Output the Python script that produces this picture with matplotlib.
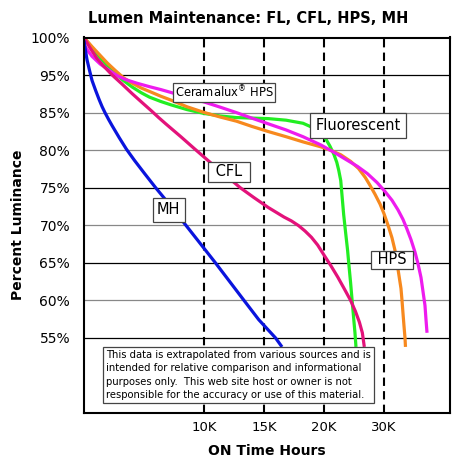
import numpy as np
from matplotlib import pyplot as plt

# hours in thousands, luminance in percent
mh_hours = [0, 0.13, 0.25, 0.46, 0.67, 0.97, 1.26, 1.51, 1.76, 2.06, 2.35, 2.94, 3.53, 4.2, 5.04, 5.97,
            7.23, 8.49, 9.75, 10.95, 12.14, 13.33, 14.56, 15.96, 16.5]
mh_pct = [99.6, 98.2, 97.05, 95.62, 93.55, 90.89, 88.48, 86.57, 84.96, 84.06, 83.24, 81.65, 80.14,
          78.65, 76.9, 75, 72.56, 70, 67.44, 65, 62.5, 60, 57.43, 55, 53.8]

cfl_hours = [0, 0.5, 1.09, 1.68, 2.35, 3.19, 4.03, 4.87, 5.63, 6.22, 6.81, 8.07, 9.24, 10.56, 11.83,
             13.02, 14.13, 15.35, 16.67, 17.28, 17.89, 18.42, 18.95, 19.47, 20.0, 21.15, 22.3, 23.44,
             24.43, 25.25, 25.9, 26.39, 26.72]
cfl_pct = [100, 98.63, 97.2, 96.12, 95, 92.54, 90.0, 87.59, 85.43, 84.34, 83.51, 81.79, 80.14, 78.31,
           76.62, 75, 73.72, 72.37, 71.09, 70.58, 69.94, 69.23, 68.4, 67.37, 66.03, 64.61, 63.09,
           61.45, 60, 58.51, 57.09, 55.68, 53.8]

cer_hours = [0, 0.34, 0.67, 1.34, 2.1, 2.77, 3.45, 4.45, 5.46, 6.39, 7.23, 8.57, 10.0, 11.35, 12.7,
             13.97, 15.35, 16.84, 18.25, 19.74, 21.64, 23.61, 25.57, 27.21, 28.85, 30.17, 31.33, 32.33,
             33.17, 33.83, 34.5, 35.17, 35.67, 36.17, 36.5, 36.83, 37.0, 37.17]
cer_pct = [99.07, 98.2, 97.49, 96.48, 95.62, 94.82, 93.81, 92.79, 91.9, 91.14, 90.38, 89.11, 87.84,
           86.45, 85, 84.27, 83.51, 82.69, 81.79, 80.69, 79.73, 78.78, 77.84, 76.89, 75.68, 74.49,
           73.33, 72.05, 70.77, 69.49, 68.08, 66.41, 64.87, 63.03, 61.18, 59.32, 57.43, 55.68]

hps_hours = [0, 0.67, 1.26, 1.93, 2.6, 3.28, 4.03, 4.79, 5.55, 6.39, 7.23, 8.57, 10.0, 11.35, 12.7,
             13.97, 15.35, 16.84, 18.25, 19.74, 21.15, 22.79, 24.43, 25.74, 26.89, 27.7, 28.52, 29.34,
             30.0, 30.67, 31.33, 31.83, 32.17, 32.5, 32.83, 33.0, 33.17, 33.33, 33.5, 33.58]
hps_pct = [100, 98.78, 97.77, 96.62, 95.62, 94.31, 92.79, 91.52, 90.51, 89.37, 88.35, 86.57, 85.05,
           84.41, 83.86, 83.17, 82.48, 81.79, 81.1, 80.44, 79.96, 79.39, 78.51, 77.57, 76.35, 75.27,
           74.1, 72.82, 71.54, 70, 68.33, 66.67, 65, 63.29, 61.58, 60, 58.24, 56.62, 55, 53.8]

fl_hours = [0, 0.67, 1.26, 1.93, 2.6, 3.28, 4.03, 4.79, 5.46, 6.39, 7.23, 8.57, 10.0, 11.35, 12.7,
            13.97, 15.35, 16.84, 18.25, 19.12, 19.74, 20.33, 20.98, 21.64, 22.13, 22.46, 22.79, 23.03,
            23.28, 23.61, 23.93, 24.18, 24.43, 24.67, 24.92, 25.16, 25.33]
fl_pct = [100, 98.63, 97.49, 96.26, 95.19, 93.55, 91.78, 90.25, 89.11, 87.97, 87.08, 85.81, 84.89,
          84.55, 84.34, 84.27, 84.2, 83.99, 83.58, 82.96, 82.27, 81.45, 80.55, 79.46, 78.38, 77.3,
          75.95, 73.72, 71.41, 68.97, 66.67, 64.47, 62.37, 60.13, 57.84, 55.68, 53.8]

y_ticks = [100, 95, 85, 80, 75, 70, 65, 60, 55]
x_ticks = [10, 15, 20, 30]
x_labels = ["10K", "15K", "20K", "30K"]

note = ("This data is extrapolated from various sources and is\n"
        "intended for relative comparison and informational\n"
        "purposes only.  This web site host or owner is not\n"
        "responsible for the accuracy or use of this material.")

# the chart's axes are evenly spaced per label, not linear
y_known = [-1000, 45, 50, 55, 60, 65, 70, 75, 80, 85, 95, 100, 1100]
y_pos = [-209, 0, 1, 2, 3, 4, 5, 6, 7, 8, 9, 10, 210]
x_known = [-1000, 0, 10, 15, 20, 30, 1000]
x_pos = [-200, 0, 2, 3, 4, 5, 102]


def yfwd(v):
    return np.interp(v, y_known, y_pos)


def yinv(v):
    return np.interp(v, y_pos, y_known)


def xfwd(v):
    return np.interp(v, x_known, x_pos)


def xinv(v):
    return np.interp(v, x_pos, x_known)


plt.rcParams['font.family'] = ['DejaVu Sans']
fig = plt.figure(figsize=(4.65, 4.67), dpi=100)
ax = fig.add_axes([84 / 465, 1 - 413 / 467, 366 / 465, 375.5 / 467])
ax.set_xscale('function', functions=(xfwd, xinv))
ax.set_yscale('function', functions=(yfwd, yinv))
ax.set_xlim(0, 41)
ax.set_ylim(45, 100)

grid_colors = ['black', 'black', '#888888', '#888888', 'black', '#888888', 'black', '#888888', 'black']
for v, c in zip(y_ticks, grid_colors):
    ax.axhline(v, color=c, lw=0.9, zorder=1)
for v in x_ticks:
    ax.axvline(v, color='black', lw=1.5, ls=(0, (4, 2.5)), zorder=1)

line_kw = dict(lw=2.3, zorder=3, solid_joinstyle='round', solid_capstyle='butt')
ax.plot(fl_hours, fl_pct, color='#22ee22', **line_kw)
ax.plot(hps_hours, hps_pct, color='#f7891e', **line_kw)
ax.plot(cer_hours, cer_pct, color='#ee1bee', **line_kw)
ax.plot(cfl_hours, cfl_pct, color='#e3127a', **line_kw)
ax.plot(mh_hours, mh_pct, color='#0a14dd', **line_kw)


def label(x, y, s, size, pad):
    ax.text(x, y, s, fontsize=size, ha='center', va='center', zorder=5,
            bbox=dict(boxstyle=f'square,pad={pad}', fc='white', ec='#444444', lw=0.9))


label(11.67, 90.3, r"Ceramalux$^{\circledR}$ HPS", 8.3, 0.12)
label(25.7, 83.3, "Fluorescent", 10.5, 0.35)
label(12.1, 77.1, " CFL ", 10.5, 0.2)
label(7.06, 72.05, "MH", 10.5, 0.3)
label(31.3, 65.4, " HPS ", 10.5, 0.12)

ax.text(0.060, 0.168, note, transform=ax.transAxes, fontsize=7.2, ha='left', va='top',
        linespacing=1.42, zorder=6,
        bbox=dict(boxstyle='square,pad=0.3', fc='white', ec='#444444', lw=0.9))

ax.set_xticks(x_ticks)
ax.set_xticklabels(x_labels)
ax.set_yticks(y_ticks)
ax.set_yticklabels([f"{v}%" for v in y_ticks])
ax.minorticks_off()
ax.tick_params(axis='both', length=0)
ax.tick_params(axis='y', labelsize=10, pad=10)
ax.tick_params(axis='x', labelsize=9.5, pad=6)
for s in ax.spines.values():
    s.set_linewidth(1.5)
    s.set_zorder(7)

ax.set_xlabel("ON Time Hours", fontsize=10, fontweight='bold', labelpad=7)
ax.set_ylabel("Percent Luminance", fontsize=10, fontweight='bold', labelpad=4)
fig.suptitle("Lumen Maintenance: FL, CFL, HPS, MH", fontsize=10.5, fontweight='bold', x=0.533, y=0.977)

fig.savefig("out.png", dpi=100)
